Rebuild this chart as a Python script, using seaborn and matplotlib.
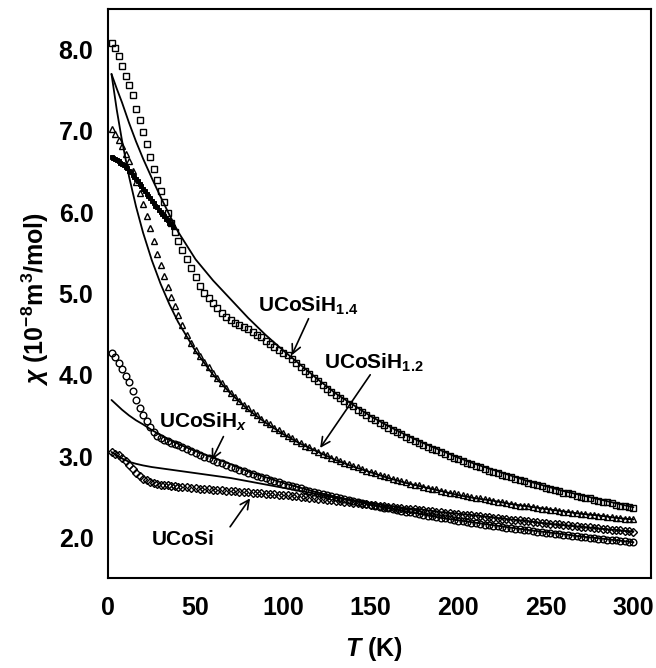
import numpy as np
import matplotlib
matplotlib.use("Agg")
import matplotlib.pyplot as plt
import seaborn as sns

# ---------------- data ----------------
T_low = [2, 4, 6, 8, 10, 12, 14, 16, 18, 20, 22, 24, 26, 28, 30, 32, 34, 36, 38]
T_high = list(np.arange(40, 300.01, 2.5))
T_data = T_low + T_high

# UCoSiH1.4 (squares)
chi_H14 = [8.08, 8.02, 7.92, 7.80, 7.68, 7.57, 7.44, 7.27, 7.13, 6.99,
           6.84, 6.68, 6.53, 6.40, 6.26, 6.12, 5.99, 5.87, 5.76,
           5.65, 5.53, 5.42, 5.31, 5.20, 5.09, 5.01, 4.94, 4.88, 4.82,
           4.76, 4.71, 4.67, 4.64, 4.61, 4.59, 4.56, 4.53, 4.49, 4.46,
           4.42, 4.38, 4.34, 4.31, 4.27, 4.24, 4.20, 4.15, 4.10, 4.05,
           4.01, 3.96, 3.92, 3.87, 3.83, 3.79, 3.75, 3.71, 3.68, 3.64,
           3.61, 3.57, 3.54, 3.50, 3.47, 3.44, 3.41, 3.38, 3.35, 3.32,
           3.29, 3.27, 3.24, 3.21, 3.19, 3.16, 3.14, 3.11, 3.09, 3.07,
           3.05, 3.02, 3.00, 2.98, 2.96, 2.94, 2.92, 2.90, 2.88, 2.86,
           2.84, 2.82, 2.81, 2.79, 2.77, 2.75, 2.74, 2.72, 2.70, 2.69,
           2.67, 2.66, 2.64, 2.63, 2.61, 2.60, 2.58, 2.57, 2.55, 2.54,
           2.53, 2.51, 2.50, 2.49, 2.48, 2.46, 2.45, 2.44, 2.43, 2.42,
           2.40, 2.39, 2.38, 2.37, 2.36]

# UCoSiH1.4 low-temperature dense run (small filled points)
T_dense = [2, 3, 4, 5, 6, 7, 8, 9, 10, 11, 12, 13, 14, 15, 16, 17, 18, 19,
           20, 21, 22, 23, 24, 25, 26, 27, 28, 29, 30, 31, 32, 33, 34, 35, 36, 37]
chi_H14_dense = [6.68, 6.67, 6.66, 6.64, 6.63, 6.61, 6.59, 6.58, 6.56, 6.54,
                 6.51, 6.49, 6.46, 6.43, 6.41, 6.38, 6.35, 6.32, 6.29, 6.26,
                 6.23, 6.20, 6.17, 6.14, 6.11, 6.08, 6.06, 6.03, 6.00, 5.98,
                 5.95, 5.92, 5.90, 5.87, 5.85, 5.82]

# UCoSiH1.2 (triangles)
chi_H12 = [7.02, 6.96, 6.89, 6.81, 6.72, 6.63, 6.51, 6.37, 6.24, 6.10,
           5.95, 5.80, 5.64, 5.49, 5.35, 5.21, 5.08, 4.96, 4.85,
           4.74, 4.61, 4.49, 4.39, 4.31, 4.23, 4.16, 4.09, 4.02, 3.96,
           3.90, 3.84, 3.78, 3.73, 3.68, 3.63, 3.59, 3.54, 3.50, 3.46,
           3.42, 3.39, 3.35, 3.32, 3.28, 3.25, 3.22, 3.19, 3.16, 3.13,
           3.11, 3.08, 3.05, 3.03, 3.01, 2.98, 2.96, 2.94, 2.92, 2.90,
           2.88, 2.86, 2.84, 2.82, 2.80, 2.79, 2.77, 2.75, 2.74, 2.72,
           2.71, 2.69, 2.68, 2.66, 2.65, 2.64, 2.62, 2.61, 2.60, 2.59,
           2.57, 2.56, 2.55, 2.54, 2.53, 2.52, 2.51, 2.50, 2.49, 2.48,
           2.47, 2.46, 2.45, 2.44, 2.43, 2.42, 2.41, 2.40, 2.39, 2.386,
           2.38, 2.37, 2.362, 2.354, 2.347, 2.34, 2.332, 2.325, 2.318, 2.311,
           2.304, 2.298, 2.291, 2.285, 2.278, 2.272, 2.266, 2.26, 2.254, 2.248,
           2.242, 2.237, 2.231, 2.225, 2.22]

# UCoSiHx (circles)
chi_Hx = [4.27, 4.22, 4.15, 4.07, 3.99, 3.91, 3.80, 3.69, 3.59, 3.50,
          3.43, 3.36, 3.30, 3.25, 3.22, 3.20, 3.18, 3.16, 3.145,
          3.133, 3.108, 3.084, 3.060, 3.037, 3.015, 2.993, 2.971, 2.950, 2.929,
          2.909, 2.889, 2.869, 2.850, 2.831, 2.813, 2.795, 2.777, 2.760, 2.743,
          2.726, 2.710, 2.693, 2.678, 2.662, 2.647, 2.632, 2.617, 2.602, 2.588,
          2.574, 2.560, 2.547, 2.533, 2.520, 2.507, 2.495, 2.482, 2.470, 2.458,
          2.446, 2.434, 2.423, 2.411, 2.400, 2.389, 2.378, 2.367, 2.357, 2.346,
          2.336, 2.326, 2.316, 2.306, 2.296, 2.287, 2.277, 2.268, 2.259, 2.250,
          2.241, 2.232, 2.224, 2.215, 2.207, 2.198, 2.190, 2.182, 2.174, 2.166,
          2.158, 2.150, 2.143, 2.135, 2.128, 2.120, 2.113, 2.106, 2.099, 2.092,
          2.085, 2.078, 2.071, 2.064, 2.058, 2.051, 2.045, 2.038, 2.032, 2.026,
          2.020, 2.014, 2.008, 2.002, 1.996, 1.990, 1.984, 1.978, 1.973, 1.967,
          1.962, 1.956, 1.951, 1.945, 1.940]

# UCoSi (diamonds)
chi_UCoSi = [3.05, 3.03, 3.01, 2.98, 2.94, 2.89, 2.84, 2.79, 2.75, 2.72,
             2.70, 2.68, 2.67, 2.66, 2.65, 2.645, 2.64, 2.635, 2.63,
             2.625, 2.62, 2.615, 2.61, 2.605, 2.60, 2.595, 2.59, 2.585, 2.58,
             2.577, 2.573, 2.57, 2.566, 2.562, 2.558, 2.554, 2.55, 2.546, 2.542,
             2.538, 2.534, 2.53, 2.526, 2.522, 2.518, 2.513, 2.507, 2.501, 2.494,
             2.488, 2.482, 2.476, 2.470, 2.463, 2.457, 2.451, 2.445, 2.439, 2.433,
             2.427, 2.421, 2.415, 2.409, 2.403, 2.397, 2.391, 2.385, 2.379, 2.373,
             2.367, 2.361, 2.355, 2.350, 2.344, 2.338, 2.332, 2.326, 2.320, 2.315,
             2.309, 2.303, 2.297, 2.292, 2.286, 2.280, 2.275, 2.269, 2.263, 2.258,
             2.252, 2.247, 2.241, 2.235, 2.230, 2.224, 2.219, 2.213, 2.208, 2.202,
             2.197, 2.191, 2.186, 2.181, 2.175, 2.170, 2.164, 2.159, 2.154, 2.148,
             2.143, 2.138, 2.132, 2.127, 2.122, 2.117, 2.111, 2.106, 2.101, 2.096,
             2.091, 2.085, 2.080, 2.075, 2.070]

# fitted curves
T_fit = [2, 5, 8, 12, 16, 20, 25, 30, 35, 40, 50, 60, 70, 80, 90, 100, 110, 120,
         130, 140, 150, 160, 170, 180, 190, 200, 210, 220, 230, 240, 250, 260,
         270, 280, 290, 300]
fit_H14 = [7.70, 7.52, 7.35, 7.10, 6.87, 6.66, 6.42, 6.19, 5.97, 5.76, 5.42, 5.16,
           4.93, 4.70, 4.49, 4.30, 4.12, 3.94, 3.77, 3.63, 3.49, 3.37, 3.26, 3.16,
           3.07, 2.98, 2.90, 2.83, 2.76, 2.69, 2.63, 2.57, 2.52, 2.47, 2.42, 2.37]
fit_H12 = [7.70, 7.26, 6.88, 6.44, 6.07, 5.75, 5.41, 5.12, 4.87, 4.65, 4.29, 4.00,
           3.77, 3.57, 3.41, 3.27, 3.15, 3.05, 2.95, 2.87, 2.80, 2.73, 2.67, 2.62,
           2.57, 2.52, 2.48, 2.45, 2.41, 2.38, 2.35, 2.32, 2.29, 2.27, 2.24, 2.22]
fit_Hx = [3.69, 3.63, 3.57, 3.50, 3.44, 3.39, 3.32, 3.26, 3.20, 3.15, 3.06, 2.98,
          2.90, 2.81, 2.74, 2.67, 2.61, 2.55, 2.50, 2.45, 2.40, 2.36, 2.32, 2.28,
          2.24, 2.21, 2.18, 2.15, 2.12, 2.09, 2.065, 2.04, 2.01, 1.99, 1.965, 1.94]
fit_UCoSi = [3.05, 3.01, 2.97, 2.93, 2.905, 2.885, 2.865, 2.85, 2.835, 2.82, 2.79,
             2.76, 2.73, 2.69, 2.65, 2.61, 2.57, 2.53, 2.49, 2.455, 2.42, 2.39,
             2.36, 2.34, 2.31, 2.29, 2.27, 2.245, 2.22, 2.20, 2.17, 2.15, 2.13,
             2.11, 2.09, 2.07]

x_ticks = [0, 50, 100, 150, 200, 250, 300]
y_ticks = [2.0, 3.0, 4.0, 5.0, 6.0, 7.0, 8.0]

# ---------------- style ----------------
sns.set_theme(style="white")
plt.rcParams["font.family"] = ["Liberation Sans", "DejaVu Sans"]
plt.rcParams["font.weight"] = "bold"
plt.rcParams["text.color"] = "black"
plt.rcParams["axes.labelcolor"] = "black"
plt.rcParams["xtick.color"] = "black"
plt.rcParams["ytick.color"] = "black"
plt.rcParams["mathtext.fontset"] = "custom"
plt.rcParams["mathtext.rm"] = "Liberation Sans:bold"
plt.rcParams["mathtext.bf"] = "Liberation Sans:bold"
plt.rcParams["mathtext.it"] = "Liberation Sans:italic:bold"

fig = plt.figure(figsize=(6.56, 6.68), dpi=100)
ax = fig.add_axes([108 / 656, 90 / 668, 543 / 656, 569 / 668])


def markers(x, y, marker, ms, mew=1.0, fill="none"):
    sns.lineplot(x=x, y=y, ax=ax, estimator=None, sort=False, legend=False,
                 linestyle="", marker=marker, markersize=ms,
                 markerfacecolor=fill, markeredgecolor="black",
                 markeredgewidth=mew, color="black")


markers(T_data, chi_H14, "s", 4.3)
markers(T_dense, chi_H14_dense, "s", 2.8, mew=0.7, fill="black")
markers(T_data, chi_H12, "^", 5.0)
markers(T_data, chi_Hx, "o", 4.8)
markers(T_data, chi_UCoSi, "D", 3.7)

for fit in (fit_H14, fit_H12, fit_Hx, fit_UCoSi):
    sns.lineplot(x=T_fit, y=fit, ax=ax, estimator=None, sort=False,
                 legend=False, color="black", linewidth=1.3)

# ---------------- annotations ----------------
lab_kw = dict(fontsize=15, fontweight="bold", ha="left", va="baseline",
              color="black")
arr_kw = dict(arrowstyle="->", color="black", lw=1.2, mutation_scale=16,
              shrinkA=0, shrinkB=0)
ax.text(85.7, 4.77, r"UCoSiH$_{1.4}$", **lab_kw)
ax.annotate("", xy=(104.9, 4.24), xytext=(114.5, 4.69), arrowprops=arr_kw)
ax.text(123.4, 4.08, r"UCoSiH$_{1.2}$", **lab_kw)
ax.annotate("", xy=(121.1, 3.10), xytext=(149.7, 4.00), arrowprops=arr_kw)
ax.text(29.1, 3.345, r"UCoSiH$_{x}$", **lab_kw)
ax.annotate("", xy=(59.2, 2.95), xytext=(65.9, 3.24), arrowprops=arr_kw)
ax.text(24.9, 1.906, "UCoSi", **lab_kw)
ax.annotate("", xy=(81.1, 2.48), xytext=(69.7, 2.13), arrowprops=arr_kw)

# ---------------- axes ----------------
ax.set_xlim(0, 310)
ax.set_ylim(1.5, 8.5)
ax.set_xticks(x_ticks)
ax.set_yticks(y_ticks)
ax.set_xticklabels([str(v) for v in x_ticks])
ax.set_yticklabels([f"{v:.1f}" for v in y_ticks])
ax.tick_params(axis="both", direction="in", length=5, width=1.2,
               labelsize=18, top=False, right=False, colors="black")
ax.tick_params(axis="x", pad=13)
ax.tick_params(axis="y", pad=10.5)
for lab in ax.get_xticklabels() + ax.get_yticklabels():
    lab.set_fontweight("bold")
    lab.set_color("black")
for sp in ax.spines.values():
    sp.set_visible(True)
    sp.set_linewidth(1.5)
    sp.set_color("black")

ax.set_xlabel(r"$T$ (K)", fontsize=18, fontweight="bold", color="black")
ax.set_ylabel(r"$\chi$ (10$^{-8}$m$^{3}$/mol)", fontsize=18,
              fontweight="bold", color="black")
ax.xaxis.set_label_coords(0.49, -0.100)
ax.yaxis.set_label_coords(-0.105, 0.49)

fig.savefig("out.png", dpi=100, facecolor="white")
